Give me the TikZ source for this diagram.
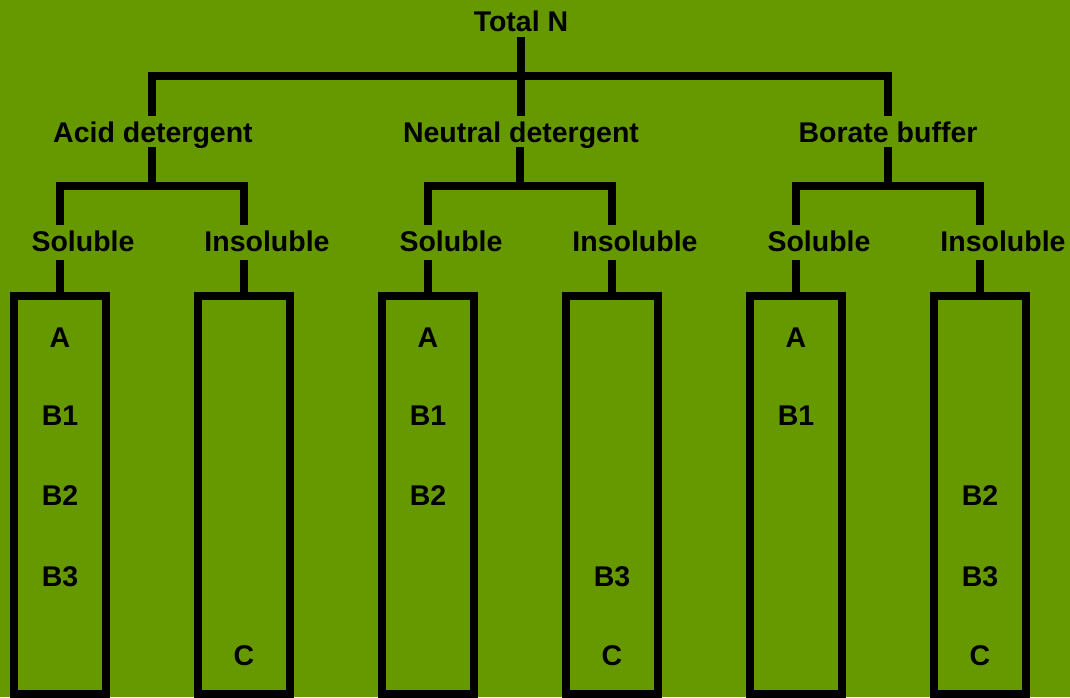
\documentclass[tikz,border=0pt]{standalone}
\usepackage{fontspec}
\setmainfont{Liberation Sans}
\begin{document}
\begin{tikzpicture}[x=1pt,y=-1pt,
  conn/.style={line width=8pt,line join=miter,line cap=rect},
  lab/.style={font=\bfseries\fontsize{28.5}{34}\selectfont,anchor=base,
    inner xsep=0pt,inner ysep=9pt,text height=21pt,text depth=0pt},
  toplab/.style={lab,inner ysep=10pt},
  cell/.style={font=\bfseries\fontsize{28.5}{34}\selectfont,anchor=base,
    inner sep=0pt},
  column/.style={draw,line width=8pt,inner sep=0pt,
    minimum width=92pt,minimum height=398pt}]
\definecolor{leaf}{RGB}{102,153,0}
\useasboundingbox (0,0) rectangle (1070,697);
\fill[leaf] (0,0) rectangle (1070,697);

% labels of the tree
\node[toplab] (total) at (521,31) {Total N};
\node[lab] (acid) at (153,142) {Acid detergent};
\node[lab] (neutral) at (521,142) {Neutral detergent};
\node[lab] (borate) at (888,142) {Borate buffer};

\node[lab] (s1) at (83,251) {Soluble};
\node[lab] (i1) at (267,251) {Insoluble};
\node[lab] (s2) at (451,251) {Soluble};
\node[lab] (i2) at (635,251) {Insoluble};
\node[lab] (s3) at (819,251) {Soluble};
\node[lab] (i3) at (1003,251) {Insoluble};

% fraction columns
\node[column] (s1box) at (60,495) {};
\node[column] (i1box) at (244,495) {};
\node[column] (s2box) at (428,495) {};
\node[column] (i2box) at (612,495) {};
\node[column] (s3box) at (796,495) {};
\node[column] (i3box) at (980,495) {};

% column contents
\node[cell] (s1a)  at (60,347) {A};
\node[cell] (s1b1) at (60,425) {B1};
\node[cell] (s1b2) at (60,505) {B2};
\node[cell] (s1b3) at (60,586) {B3};
\node[cell] (i1c)  at (244,665) {C};

\node[cell] (s2a)  at (428,347) {A};
\node[cell] (s2b1) at (428,425) {B1};
\node[cell] (s2b2) at (428,505) {B2};
\node[cell] (i2b3) at (612,586) {B3};
\node[cell] (i2c)  at (612,665) {C};

\node[cell] (s3a)  at (796,347) {A};
\node[cell] (s3b1) at (796,425) {B1};
\node[cell] (i3b2) at (980,505) {B2};
\node[cell] (i3b3) at (980,586) {B3};
\node[cell] (i3c)  at (980,665) {C};

% fork points
\coordinate (topL) at (152,76);
\coordinate (topR) at (888,76);
\coordinate (f1) at (152,186);
\coordinate (f2) at (520,186);
\coordinate (f3) at (888,186);

% first level
\draw[conn] (total.south) -- (neutral.north);
\draw[conn] (topL |- acid.north) |- (topR) -- (topR |- borate.north);

% second level
\draw[conn] (f1 |- acid.south) -- (f1);
\draw[conn] (s1box.north |- s1.north) |- (f1 -| i1box) -- (i1box.north |- i1.north);
\draw[conn] (f2 |- neutral.south) -- (f2);
\draw[conn] (s2box.north |- s2.north) |- (f2 -| i2box) -- (i2box.north |- i2.north);
\draw[conn] (f3 |- borate.south) -- (f3);
\draw[conn] (s3box.north |- s3.north) |- (f3 -| i3box) -- (i3box.north |- i3.north);

% stems into the columns
\foreach \b/\l in {s1box/s1,i1box/i1,s2box/s2,i2box/i2,s3box/s3,i3box/i3}
  \draw[line width=8pt] (\b.north |- \l.south) -- (\b.north);
\end{tikzpicture}
\end{document}
